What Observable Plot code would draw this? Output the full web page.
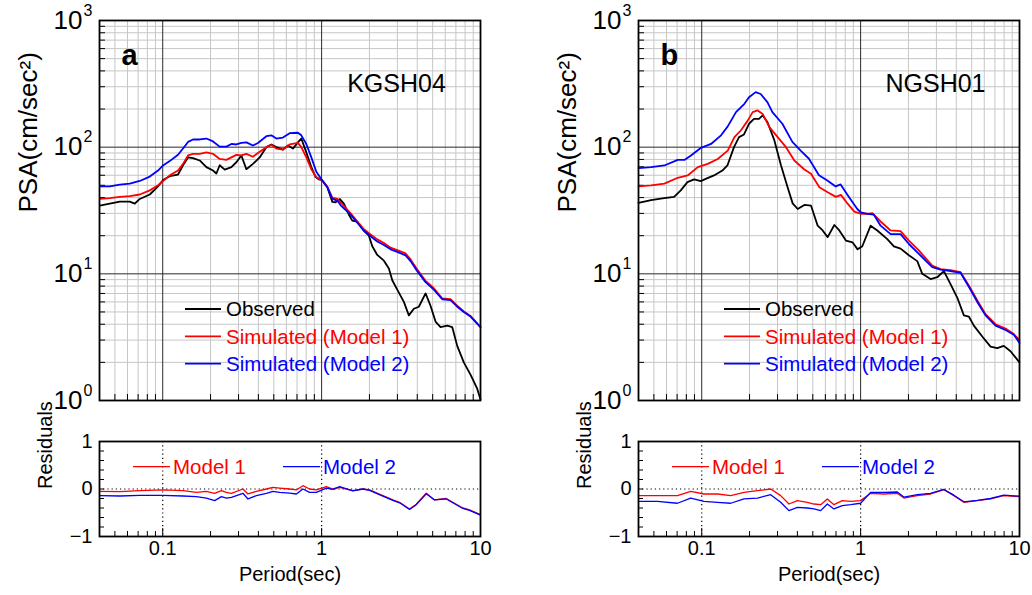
<!DOCTYPE html>
<html><head><meta charset="utf-8">
<script src="https://cdn.jsdelivr.net/npm/d3@7"></script>
<script src="https://cdn.jsdelivr.net/npm/@observablehq/plot@0.6"></script>
<style>
body{margin:0;background:#fff}
#fig{position:relative;width:1032px;height:595px;font-family:"Liberation Sans",Arial,Helvetica,sans-serif}
#fig svg{position:absolute}
</style>
</head><body><div id="fig"></div>
<script>
// ---------- DATA: [period (s), PSA (cm/s^2)] ----------
const aObs = [[0.0402,34.6],[0.0464,35.8],[0.0537,37.1],[0.0620,37.1],[0.0667,35.8],[0.0717,39],[0.0829,42.3],[0.0934,49],[0.1004,55],[0.1107,59],[0.1248,60.8],[0.1342,72],[0.1443,83],[0.1551,82],[0.1709,78.5],[0.1883,69.6],[0.2072,65.4],[0.2176,62],[0.2283,72],[0.2455,66.5],[0.2705,69.6],[0.2907,76],[0.3126,86],[0.3360,67],[0.3698,73.8],[0.4074,83],[0.4489,100],[0.4827,105],[0.5189,100],[0.5709,95.6],[0.6139,103],[0.6600,97.5],[0.7095,109],[0.7452,117],[0.8011,91],[0.8615,69.6],[0.917,58],[0.9617,55.6],[1.010,54.6],[1.086,48.3],[1.168,37],[1.225,36.7],[1.303,39],[1.381,35.8],[1.485,29.3],[1.560,26.3],[1.677,25.8],[1.845,21.9],[1.984,20.0],[2.084,16.5],[2.240,14.1],[2.466,12.7],[2.651,11.0],[2.784,8.9],[2.993,7.5],[3.293,6.0],[3.541,4.7],[3.806,5.3],[4.093,5.5],[4.510,7.0],[4.847,5.6],[5.212,4.2],[5.603,3.8],[6.173,3.9],[6.637,3.8],[7.136,2.7],[7.852,2.0],[8.651,1.6],[9.533,1.24],[10,1.02]];
const aSim1 = [[0.0402,39.1],[0.0464,39.6],[0.0537,40.5],[0.0620,41],[0.0717,42.3],[0.0829,45.6],[0.0934,50],[0.1004,54],[0.1107,59.9],[0.1248,65.4],[0.1342,73.8],[0.1443,86],[0.1551,88.6],[0.1709,88.6],[0.1883,91],[0.2072,88.6],[0.2283,80.7],[0.2515,79.3],[0.2705,83],[0.2907,87],[0.3126,86],[0.3360,88.6],[0.3698,84],[0.3975,90],[0.4489,100],[0.4827,104],[0.5189,97.5],[0.5709,95.6],[0.6291,105],[0.7095,108],[0.7452,100],[0.8011,83],[0.8615,67],[0.9262,58],[1.010,54.6],[1.086,48.8],[1.168,40],[1.255,39],[1.322,36.5],[1.522,30],[1.677,26],[1.845,22.5],[2.033,20.5],[2.240,18.7],[2.466,17.5],[2.716,16.1],[2.993,15.4],[3.375,14.5],[3.629,13.0],[3.999,10.8],[4.510,8.8],[5.085,7.7],[5.742,6.4],[6.475,6.3],[7.136,5.6],[7.852,5.05],[8.651,4.65],[10,3.8]];
const aSim2 = [[0.0402,49],[0.0464,49],[0.0537,50.7],[0.0620,51.5],[0.0717,54.1],[0.0829,58.6],[0.0934,65.4],[0.1004,71.7],[0.1107,77.6],[0.1248,87.2],[0.1342,97.7],[0.1443,110],[0.1551,115],[0.1709,115],[0.1883,117],[0.2072,111],[0.2283,101],[0.2515,101],[0.2705,106],[0.2907,105],[0.3126,108],[0.3360,109],[0.3698,103],[0.3975,108],[0.4489,122],[0.4827,124],[0.5189,117],[0.5709,119],[0.6291,129],[0.7095,130],[0.7452,124],[0.8011,106],[0.8615,83],[0.9262,64],[1.010,54.6],[1.086,48.3],[1.168,39],[1.255,37.9],[1.322,34.6],[1.522,29.3],[1.677,25.3],[1.845,21.9],[2.033,19.8],[2.240,18.0],[2.466,16.9],[2.716,15.6],[2.993,14.9],[3.375,14.0],[3.629,12.6],[3.999,10.5],[4.510,8.6],[5.085,7.5],[5.742,6.3],[6.475,6.2],[7.136,5.5],[7.852,5.0],[8.651,4.6],[10,3.8]];

const bObs = [[0.0400,36.3],[0.0480,38.2],[0.0580,39.6],[0.0670,40.5],[0.0738,45.6],[0.0813,53],[0.0895,55.6],[0.0986,54],[0.1086,57],[0.1195,59.8],[0.1349,65.4],[0.1451,71.7],[0.1596,100],[0.1717,120],[0.1845,126],[0.1984,153],[0.2133,167],[0.2293,167],[0.2419,178],[0.2590,158],[0.2866,113],[0.3153,72],[0.3474,48],[0.3735,36],[0.4017,32.5],[0.4425,35],[0.4871,34.6],[0.5367,24],[0.5768,22],[0.6202,19.5],[0.6834,24.3],[0.7345,22],[0.8080,18.3],[0.8907,17.7],[0.9574,15.6],[1.025,16.5],[1.156,24],[1.274,22],[1.472,18.8],[1.620,16.5],[1.785,15.8],[2.013,14.0],[2.273,12.6],[2.444,10.0],[2.756,9.1],[3.037,9.4],[3.342,10.5],[3.681,8.3],[4.056,6.5],[4.465,4.7],[4.799,4.6],[5.160,3.9],[5.829,3.2],[6.572,2.66],[7.242,2.59],[7.966,2.7],[8.778,2.45],[10,2.0]];
const bSim1 = [[0.0400,49],[0.0480,50],[0.0582,51.5],[0.0706,57.3],[0.0816,59.8],[0.0944,69.6],[0.1091,73.8],[0.1261,80.7],[0.1458,94],[0.1606,120],[0.1767,136],[0.1947,162],[0.2093,189],[0.2250,195],[0.2419,183],[0.2666,144],[0.3006,120],[0.3390,100],[0.3828,78.5],[0.4425,66.6],[0.4871,61.6],[0.5501,48.3],[0.6202,44.1],[0.6994,40.5],[0.7517,42],[0.8282,35.8],[0.9130,31],[1.004,29.8],[1.107,29.8],[1.185,30.2],[1.336,25.9],[1.544,22],[1.785,21.7],[2.013,18.3],[2.326,15.3],[2.564,13.3],[2.824,11.6],[3.185,10.9],[3.681,10.7],[4.256,10.3],[4.799,8.1],[5.420,6.2],[6.113,4.8],[7.065,4.0],[8.165,3.7],[9.209,3.35],[10,3.0]];
const bSim2 = [[0.0400,68.2],[0.0480,69.6],[0.0582,71.7],[0.0706,79.3],[0.0778,79.3],[0.0856,86],[0.0990,98.8],[0.1144,106],[0.1323,124],[0.1458,146],[0.1643,189],[0.1856,220],[0.1984,248],[0.2186,272],[0.2350,263],[0.2590,227],[0.2784,189],[0.3218,153],[0.3719,110],[0.4195,94],[0.4731,81],[0.5468,60],[0.6175,54.6],[0.6964,49],[0.7485,50.8],[0.8440,40.5],[0.9533,32.5],[1.004,30.5],[1.102,29.8],[1.212,29.3],[1.336,24],[1.544,20.6],[1.785,20.6],[2.013,17.2],[2.326,14.4],[2.564,12.7],[2.824,11.3],[3.185,10.8],[3.681,10.5],[4.256,10.2],[4.799,7.9],[5.420,6.0],[6.113,4.7],[7.065,3.9],[8.165,3.6],[9.209,3.3],[10,2.85]];

// residuals: [period (s), residual]
const aRes1 = [[0.0402,-0.05],[0.0537,-0.056],[0.0717,-0.035],[0.1004,-0.02],[0.1342,-0.035],[0.1629,-0.07],[0.1883,-0.05],[0.2123,-0.09],[0.2340,-0.035],[0.2515,-0.07],[0.2705,-0.09],[0.3199,0],[0.3439,-0.105],[0.3885,-0.05],[0.4489,0],[0.4939,0.035],[0.5442,0.02],[0.6291,0],[0.6933,-0.02],[0.7627,0.07],[0.8405,0],[0.9262,-0.02],[1.071,0.05],[1.178,0],[1.298,0.035],[1.573,-0.035],[1.819,0],[2.004,-0.02],[2.430,-0.14],[2.808,-0.23],[3.094,-0.28],[3.577,-0.42],[3.941,-0.32],[4.557,-0.09],[5.138,-0.23],[6.086,-0.2],[6.696,-0.28],[7.742,-0.4],[8.527,-0.44],[10,-0.54]];
const aRes2 = [[0.0402,-0.14],[0.0537,-0.147],[0.0717,-0.133],[0.1004,-0.133],[0.1342,-0.147],[0.1629,-0.16],[0.1883,-0.19],[0.2123,-0.245],[0.2340,-0.16],[0.2515,-0.19],[0.2705,-0.175],[0.3199,-0.09],[0.3439,-0.21],[0.3885,-0.14],[0.4489,-0.09],[0.4939,-0.05],[0.5442,-0.07],[0.6291,-0.085],[0.6933,-0.105],[0.7627,0],[0.8405,-0.07],[0.9262,-0.07],[1.071,0.02],[1.178,-0.007],[1.298,0.05],[1.573,-0.04],[1.819,0],[2.004,-0.03],[2.430,-0.15],[2.808,-0.24],[3.094,-0.29],[3.577,-0.43],[3.941,-0.33],[4.557,-0.1],[5.138,-0.23],[6.086,-0.21],[6.696,-0.29],[7.742,-0.41],[8.527,-0.45],[10,-0.55]];
const bRes1 = [[0.0400,-0.14],[0.0526,-0.14],[0.0703,-0.14],[0.0853,-0.05],[0.1034,-0.105],[0.1255,-0.105],[0.1522,-0.14],[0.1845,-0.07],[0.2241,-0.035],[0.2716,0],[0.3140,-0.14],[0.3541,-0.316],[0.3999,-0.245],[0.4623,-0.28],[0.5087,-0.316],[0.5605,-0.33],[0.6175,-0.21],[0.6794,-0.33],[0.7671,-0.245],[0.8653,-0.26],[1.0,-0.245],[1.156,-0.09],[1.401,-0.105],[1.701,-0.09],[1.873,-0.19],[2.273,-0.14],[2.756,-0.105],[3.342,-0.014],[3.862,-0.14],[4.465,-0.28],[5.420,-0.245],[6.572,-0.21],[7.966,-0.14],[10,-0.16]];
const bRes2 = [[0.0400,-0.26],[0.0526,-0.26],[0.0703,-0.3],[0.0853,-0.19],[0.1034,-0.26],[0.1255,-0.28],[0.1522,-0.3],[0.1845,-0.21],[0.2241,-0.19],[0.2716,-0.12],[0.3140,-0.28],[0.3541,-0.456],[0.3999,-0.386],[0.4623,-0.4],[0.5087,-0.42],[0.5605,-0.456],[0.6175,-0.316],[0.6794,-0.42],[0.7671,-0.35],[0.8653,-0.33],[1.0,-0.3],[1.156,-0.07],[1.401,-0.07],[1.701,-0.063],[1.873,-0.17],[2.273,-0.12],[2.756,-0.09],[3.342,-0.01],[3.862,-0.13],[4.465,-0.27],[5.420,-0.24],[6.572,-0.2],[7.966,-0.13],[10,-0.15]];

// ticks and labels
const xMajor = [0.1, 1];
const xMinor = [0.05,0.06,0.07,0.08,0.09,0.2,0.3,0.4,0.5,0.6,0.7,0.8,0.9,2,3,4,5,6,7,8,9];
const xLabels = [[0.1,"0.1"],[1,"1"],[10,"10"]];
const yMajor = [10, 100];
const yMinor = [2,3,4,5,6,7,8,9,20,30,40,50,60,70,80,90,200,300,400,500,600,700,800,900];
const yLabels = [[1,"0"],[10,"1"],[100,"2"],[1000,"3"]];
const resTicks = [-0.8,-0.6,-0.4,-0.2,0,0.2,0.4,0.6,0.8];
const resLabels = [[1,"1"],[0,"0"],[-1,"\u22121"]];
const stations = ["KGSH04","NGSH01"];
const letters = ["a","b"];
const mainLegend = [["Observed","#000"],["Simulated (Model 1)","#ff0000"],["Simulated (Model 2)","#0000ff"]];
const resLegend = [["Model 1","#ff0000"],["Model 2","#0000ff"]];

// ---------- LAYOUT ----------
const FONT = '"Liberation Sans", Arial, Helvetica, sans-serif';
const W = 516, FW = 381, MH = 420, RH = 175;
const fig = document.getElementById("fig");
const px = d => d[0], py = d => d[1];

function mainPlot(obs, s1, s2, station, letter, ml) {
  const fh = MH - 40;
  const svg = Plot.plot({
    width: W, height: MH, marginLeft: ml, marginRight: W - ml - FW, marginTop: 20, marginBottom: 20,
    x: {type: "log", domain: [0.04, 10], axis: null},
    y: {type: "log", domain: [1, 1000], axis: null},
    style: {fontFamily: FONT, background: "transparent", overflow: "visible"},
    marks: [
      Plot.ruleX(xMinor, {stroke: "#c6c6c6", strokeWidth: 1}),
      Plot.ruleY(yMinor, {stroke: "#c6c6c6", strokeWidth: 1}),
      Plot.ruleX(xMajor, {stroke: "#2a2a2a", strokeWidth: 1}),
      Plot.ruleY(yMajor, {stroke: "#2a2a2a", strokeWidth: 1}),
      Plot.tickY(yMinor, {y: d => d, stroke: "#000", strokeWidth: 1, insetRight: FW - 6}),
      Plot.tickX(xMinor, {x: d => d, stroke: "#000", strokeWidth: 1, insetTop: fh - 6}),
      Plot.line(obs, {x: px, y: py, stroke: "#000", strokeWidth: 1.8}),
      Plot.line(s1, {x: px, y: py, stroke: "#ff0000", strokeWidth: 1.8}),
      Plot.line(s2, {x: px, y: py, stroke: "#0000ff", strokeWidth: 1.8}),
      Plot.frame({stroke: "#000", strokeWidth: 1.8}),
      Plot.text(yLabels, {y: d => d[0], text: () => "10", frameAnchor: "left", textAnchor: "end", dx: -17, fontSize: 26, fill: "#000"}),
      Plot.text(yLabels, {y: d => d[0], text: d => d[1], frameAnchor: "left", textAnchor: "start", dx: -16, dy: -10, fontSize: 16, fill: "#000"}),
      Plot.text(["PSA(cm/sec\u00B2)"], {text: d => d, frameAnchor: "left", dx: -71, dy: 2, rotate: -90, fontSize: 26, fill: "#000"}),
      Plot.text([station], {text: d => d, frameAnchor: "top-left", dx: 297, dy: 54, textAnchor: "middle", fontSize: 25, fill: "#000"}),
      Plot.text([letter], {text: d => d, frameAnchor: "top-left", dx: 22, dy: 24, textAnchor: "start", fontSize: 29, fontWeight: "bold", fill: "#000"})
    ]
  });
  const g = d3.select(svg).append("g").attr("font-family", FONT).attr("font-size", 20.5).attr("text-anchor", "start");
  mainLegend.forEach(([label, color], i) => {
    const y = 309 + i * 27.3;
    g.append("line").attr("x1", ml + 86).attr("x2", ml + 122).attr("y1", y).attr("y2", y)
      .attr("stroke", color).attr("stroke-width", 1.8);
    g.append("text").attr("x", ml + 127).attr("y", y).attr("dy", "0.36em").attr("text-anchor", "start").attr("fill", color).text(label);
  });
  return svg;
}

function resPlot(r1, r2, ml) {
  const fh = RH - 21 - 59;
  const svg = Plot.plot({
    width: W, height: RH, marginLeft: ml, marginRight: W - ml - FW, marginTop: 21, marginBottom: 59,
    x: {type: "log", domain: [0.04, 10], axis: null},
    y: {domain: [-1, 1], axis: null},
    style: {fontFamily: FONT, background: "transparent", overflow: "visible"},
    marks: [
      Plot.ruleX(xMajor, {stroke: "#000", strokeWidth: 1.2, strokeDasharray: "1.2,3"}),
      Plot.ruleY([0], {stroke: "#000", strokeWidth: 1.2, strokeDasharray: "1.2,3"}),
      Plot.tickY(resTicks, {y: d => d, stroke: "#000", strokeWidth: 1, insetRight: FW - 5}),
      Plot.tickX(xMinor, {x: d => d, stroke: "#000", strokeWidth: 1, insetTop: fh - 5}),
      Plot.tickX(xMajor, {x: d => d, stroke: "#000", strokeWidth: 1, insetTop: fh - 8}),
      Plot.line(r1, {x: px, y: py, stroke: "#ff0000", strokeWidth: 1.3}),
      Plot.line(r2, {x: px, y: py, stroke: "#0000ff", strokeWidth: 1.3}),
      Plot.frame({stroke: "#000", strokeWidth: 1.8}),
      Plot.text(resLabels, {y: d => d[0], text: d => d[1], frameAnchor: "left", textAnchor: "end", dx: -7, fontSize: 20, fill: "#000"}),
      Plot.text(xLabels, {x: d => d[0], text: d => d[1], frameAnchor: "bottom", dy: 18, fontSize: 20, fill: "#000"}),
      Plot.text(["Period(sec)"], {text: d => d, frameAnchor: "bottom", dy: 44, fontSize: 20, fill: "#000"}),
      Plot.text(["Residuals"], {text: d => d, frameAnchor: "left", dx: -54, rotate: -90, fontSize: 20, fill: "#000"})
    ]
  });
  const g = d3.select(svg).append("g").attr("font-family", FONT).attr("font-size", 20.5).attr("text-anchor", "start");
  resLegend.forEach(([label, color], i) => {
    const x0 = ml + 34 + i * 150, y = 46.7;
    g.append("line").attr("x1", x0).attr("x2", x0 + 37).attr("y1", y).attr("y2", y)
      .attr("stroke", color).attr("stroke-width", 1.2);
    g.append("text").attr("x", x0 + 40).attr("y", y).attr("dy", "0.36em").attr("text-anchor", "start").attr("fill", color).text(label);
  });
  return svg;
}

function place(svg, left, top) {
  svg.style.left = left + "px";
  svg.style.top = top + "px";
  fig.appendChild(svg);
}

place(mainPlot(aObs, aSim1, aSim2, stations[0], letters[0], 99), 0, 0);
place(resPlot(aRes1, aRes2, 99), 0, MH);
place(mainPlot(bObs, bSim1, bSim2, stations[1], letters[1], 122), W, 0);
place(resPlot(bRes1, bRes2, 122), W, MH);
</script>
</body></html>
